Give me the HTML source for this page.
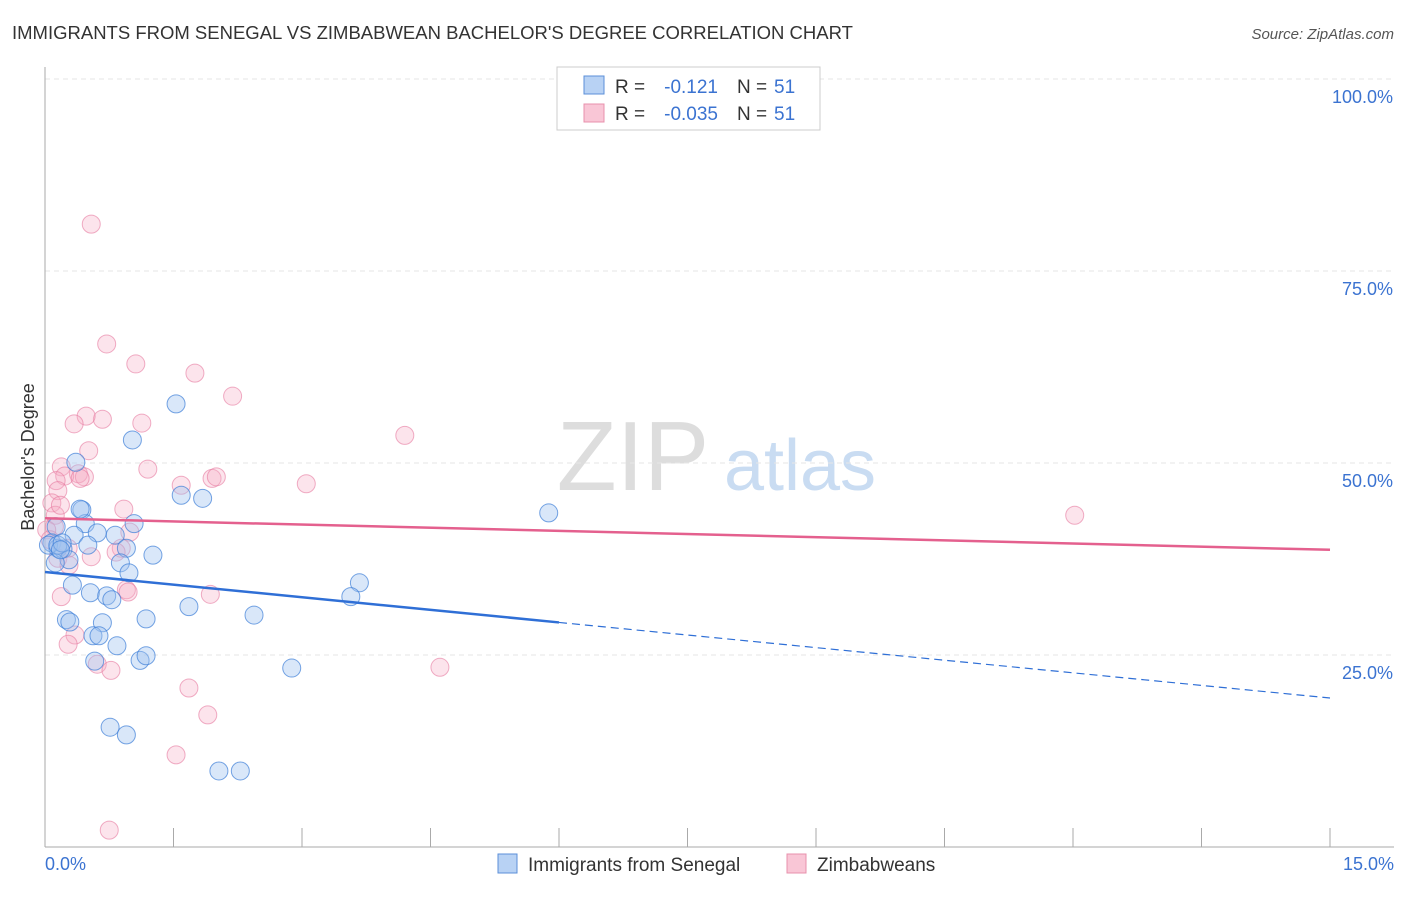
<!DOCTYPE html>
<html><head><meta charset="utf-8"><style>
body{margin:0;background:#fff;font-family:"Liberation Sans",sans-serif;}
svg text{font-family:"Liberation Sans",sans-serif;}
</style></head><body>
<svg id="chart" width="1406" height="892" xmlns="http://www.w3.org/2000/svg">
<text x="12" y="39" font-size="18.5" fill="#333">IMMIGRANTS FROM SENEGAL VS ZIMBABWEAN BACHELOR'S DEGREE CORRELATION CHART</text>
<text x="1394" y="39" font-size="15" fill="#555" font-style="italic" text-anchor="end">Source: ZipAtlas.com</text>
<g>
<text x="633" y="490" font-size="98" fill="#ddd" font-family="Liberation Serif,serif" text-anchor="middle">ZIP</text>
<text x="800" y="490" font-size="72" fill="#c9dcf2" text-anchor="middle">atlas</text>
</g>
<g id="grid"></g>
<g id="axes"></g>
<g id="marks"></g>
<text transform="translate(34,457) rotate(-90)" font-size="18" fill="#333" text-anchor="middle">Bachelor's Degree</text>
<g>
<rect x="557" y="67" width="263" height="63" fill="#fff" stroke="#ccc"/>
<rect x="584" y="76" width="20" height="18" fill="#b8d2f4" stroke="#5b8fd8"/>
<rect x="584" y="104" width="20" height="18" fill="#f9c6d6" stroke="#e890ac"/>
<text x="615" y="93" font-size="19" fill="#333">R =</text>
<text x="718" y="93" font-size="19" fill="#3b73d1" text-anchor="end">-0.121</text>
<text x="737" y="93" font-size="19" fill="#333">N =</text>
<text x="774" y="93" font-size="19" fill="#3b73d1">51</text>
<text x="615" y="120" font-size="19" fill="#333">R =</text>
<text x="718" y="120" font-size="19" fill="#3b73d1" text-anchor="end">-0.035</text>
<text x="737" y="120" font-size="19" fill="#333">N =</text>
<text x="774" y="120" font-size="19" fill="#3b73d1">51</text>
</g>
<g>
<rect x="498" y="854" width="19" height="19" fill="#b8d2f4" stroke="#5b8fd8"/>
<text x="528" y="871" font-size="19" fill="#333">Immigrants from Senegal</text>
<rect x="787" y="854" width="19" height="19" fill="#f9c6d6" stroke="#e890ac"/>
<text x="817" y="871" font-size="19" fill="#333">Zimbabweans</text>
</g>
</svg>
<script>
const blueX=[0.36,0.43,1.02,1.53,1.59,1.84,5.88,0.13,0.47,1.04,0.34,0.61,0.82,0.08,0.15,0.21,0.50,0.95,1.26,0.28,0.12,0.88,0.98,0.32,0.53,0.72,0.78,3.67,3.57,1.68,1.18,2.44,0.25,0.29,0.67,0.56,0.63,0.84,0.58,1.11,1.18,2.88,0.76,0.95,2.03,2.28,0.04,0.15,0.20,0.41,0.18];
const blueY=[50.1,43.9,53.0,57.7,45.8,45.4,43.5,41.7,42.1,42.1,40.6,40.9,40.6,39.6,38.9,38.8,39.3,38.9,38.0,37.4,37.0,37.0,35.7,34.1,33.1,32.7,32.2,34.4,32.6,31.3,29.7,30.2,29.6,29.3,29.2,27.5,27.5,26.2,24.2,24.3,24.9,23.3,15.6,14.6,9.9,9.9,39.3,39.3,39.6,44.0,38.7];
const pinkX=[0.54,0.72,1.06,1.75,2.19,4.20,0.67,1.13,0.48,0.34,0.51,0.19,1.20,0.39,0.23,0.46,0.13,0.15,1.59,1.95,2.00,3.05,12.02,0.92,0.08,0.12,0.11,0.99,0.89,0.27,0.15,0.54,0.83,0.28,0.19,0.95,1.93,0.97,0.35,0.27,0.61,0.77,1.68,4.61,1.90,1.53,0.75,0.02,0.06,0.41,0.18];
const pinkY=[81.1,65.5,62.9,61.7,58.7,53.6,55.7,55.2,56.1,55.1,51.6,49.5,49.2,48.6,48.3,48.2,47.7,46.4,47.1,48.0,48.2,47.3,43.2,44.0,44.8,43.2,41.7,41.0,38.9,38.9,37.6,37.8,38.4,36.7,32.6,33.5,32.9,33.2,27.6,26.4,23.8,23.0,20.7,23.4,17.2,12.0,2.2,41.3,40.0,48.0,44.5];
const blueTrend=[35.8,19.4];
const pinkTrend=[42.8,38.7];
const yTicks=[25,50,75,100];
const xTicks=[0,1.5,3,4.5,6,7.5,9,10.5,12,13.5,15];
const NS='http://www.w3.org/2000/svg';
const sx=v=>45+v*(1330-45)/15;
const sy=v=>847-v*7.68;
function mk(tag,attrs,parent){const e=document.createElementNS(NS,tag);for(const k in attrs)e.setAttribute(k,attrs[k]);parent.appendChild(e);return e;}
const grid=document.getElementById('grid'),axes=document.getElementById('axes'),marks=document.getElementById('marks');
yTicks.forEach(t=>{
 const l=mk('line',{x1:45,x2:1394,y1:sy(t),y2:sy(t),stroke:'#e6e6e6','stroke-dasharray':'5,4'},grid);
 
 
 const tx=mk('text',{x:1393,y:sy(t)+24,'font-size':18,fill:'#3b73d1','text-anchor':'end'},axes);
 tx.textContent=t.toFixed(1)+'%';
 
 
});
const ya=mk('line',{x1:45,x2:45,y1:67,y2:847,stroke:'#aaa'},axes);


const xa=mk('line',{x1:45,x2:1394,y1:847,y2:847,stroke:'#aaa'},axes);


xTicks.forEach(t=>{
 const l=mk('line',{x1:sx(t),x2:sx(t),y1:828,y2:847,stroke:'#aaa'},axes);
 
 
});
const xl0=mk('text',{x:45,y:870,'font-size':18,fill:'#3b73d1'},axes);xl0.textContent='0.0%';


const xl1=mk('text',{x:1394,y:870,'font-size':18,fill:'#3b73d1','text-anchor':'end'},axes);xl1.textContent='15.0%';


function pts(X,Y,fill,stroke,name){X.forEach((x,i)=>{
 const c=mk('circle',{cx:sx(x),cy:sy(Y[i]),r:9,fill:fill,stroke:stroke,'stroke-width':1},marks);
 
 
});}
pts(pinkX,pinkY,'rgba(246,172,198,0.33)','rgba(230,120,158,0.6)','zimbabwe-point');
pts(blueX,blueY,'rgba(160,196,240,0.4)','rgba(60,125,215,0.7)','senegal-point');
const bAt=x=>blueTrend[0]+(blueTrend[1]-blueTrend[0])*x/15;
const pAt=x=>pinkTrend[0]+(pinkTrend[1]-pinkTrend[0])*x/15;
const pt=mk('line',{x1:sx(0),y1:sy(pAt(0)),x2:sx(15),y2:sy(pAt(15)),stroke:'#e4608e','stroke-width':2.5},marks);


const bt=mk('line',{x1:sx(0),y1:sy(bAt(0)),x2:sx(6),y2:sy(bAt(6)),stroke:'#2f6fd6','stroke-width':2.5},marks);


const bd=mk('line',{x1:sx(6),y1:sy(bAt(6)),x2:sx(15),y2:sy(bAt(15)),stroke:'#2f6fd6','stroke-width':1.2,'stroke-dasharray':'8,5'},marks);


</script>
</body></html>
